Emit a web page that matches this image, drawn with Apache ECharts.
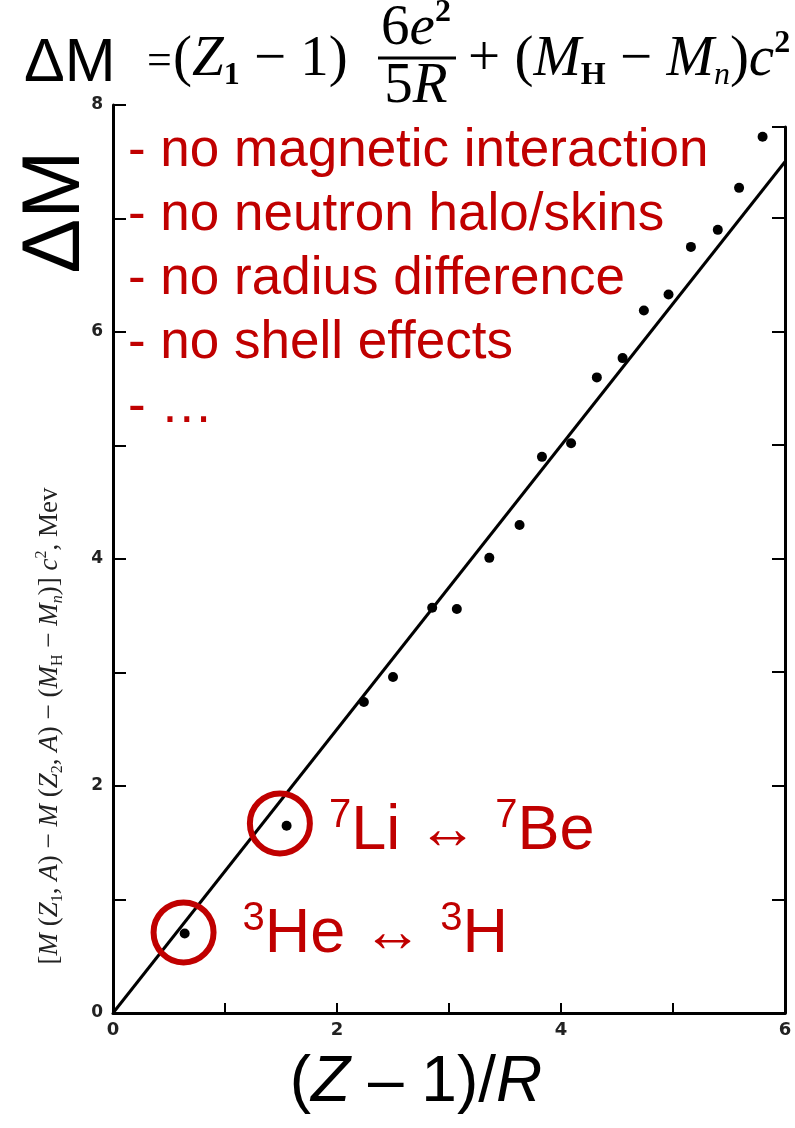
<!DOCTYPE html>
<html>
<head>
<meta charset="utf-8">
<script src="https://cdn.jsdelivr.net/npm/echarts@6/dist/echarts.min.js"></script>
<style>
  html, body { margin: 0; padding: 0; background: #ffffff; }
  #chart { width: 795px; height: 1128px; }
</style>
</head>
<body>
<div id="chart"></div>
<script>
// Mirror-nuclei mass differences versus (Z - 1)/R
const xValues = [0.64, 1.55, 2.24, 2.50, 2.85, 3.07, 3.36, 3.63, 3.83, 4.09, 4.32, 4.55, 4.74, 4.96, 5.16, 5.40, 5.59, 5.80];
const yValues = [0.70, 1.65, 2.74, 2.96, 3.57, 3.56, 4.01, 4.30, 4.90, 5.02, 5.60, 5.77, 6.19, 6.33, 6.75, 6.90, 7.27, 7.72];

// straight-line Coulomb estimate through the origin
const fitX = [0, 6];
const fitY = [0, 7.5];

// highlighted pairs (ring centres) and their names
const ringX = [0.63, 1.49];
const ringY = [0.71, 1.67];
const ringNames = [['3', 'He', '3', 'H'], ['7', 'Li', '7', 'Be']];

const xTicks = [0, 2, 4, 6];
const yTicks = [0, 2, 4, 6, 8];

const bullets = [
  '- no magnetic interaction',
  '- no neutron halo/skins',
  '- no radius difference',
  '- no shell effects',
  '- \u2026'
];

const RED = '#c00000';
const SERIF = '"Liberation Serif", "DejaVu Serif", serif';
const SANS = '"Liberation Sans", Arial, sans-serif';

const chart = echarts.init(document.getElementById('chart'), null, { renderer: 'canvas' });

const ringLabelRich = {
  sup: { fontFamily: SANS, fontSize: 40, color: RED, lineHeight: 44, verticalAlign: 'top' },
  t: { fontFamily: SANS, fontSize: 63, color: RED, lineHeight: 70 },
  arr: { fontFamily: SANS, fontSize: 60, color: RED, lineHeight: 70 }
};

const ringData = ringX.map((x, i) => ({
  value: [x, ringY[i]],
  label: {
    distance: i === 0 ? 26 : 16,
    offset: i === 0 ? [0, 2] : [0, 8]
  }
}));

const FS = 57;
const formulaRich = {
  n: { fontFamily: SERIF, fontSize: FS, fill: '#000', lineHeight: 64 },
  i: { fontFamily: SERIF, fontSize: FS, fontStyle: 'italic', fill: '#000', lineHeight: 64 },
  s: { fontFamily: SERIF, fontSize: 32, fontWeight: 'bold', fill: '#000', lineHeight: 32, verticalAlign: 'bottom' },
  si: { fontFamily: SERIF, fontSize: 32, fontStyle: 'italic', fill: '#000', lineHeight: 32, verticalAlign: 'bottom' },
  p: { fontFamily: SERIF, fontSize: 32, fontWeight: 'bold', fill: '#000', lineHeight: 32, verticalAlign: 'top' }
};

const axisTitleRich = {
  n: { fontFamily: SERIF, fontSize: 27, fill: '#222', lineHeight: 32 },
  i: { fontFamily: SERIF, fontSize: 27, fontStyle: 'italic', fill: '#222', lineHeight: 32 },
  s: { fontFamily: SERIF, fontSize: 16, fill: '#222', lineHeight: 16, verticalAlign: 'bottom' },
  si: { fontFamily: SERIF, fontSize: 16, fontStyle: 'italic', fill: '#222', lineHeight: 16, verticalAlign: 'bottom' },
  p: { fontFamily: SERIF, fontSize: 16, fill: '#222', lineHeight: 16, verticalAlign: 'top' }
};

const option = {
  backgroundColor: '#ffffff',
  animation: false,
  grid: [
    { left: 113, right: 10, top: 105, bottom: 115 },
    { left: 113, right: 10, top: 127, bottom: 115 }
  ],
  xAxis: [
    {
      type: 'value', gridIndex: 0, min: 0, max: 6, interval: 1,
      axisLine: { show: true, lineStyle: { color: '#000', width: 3 } },
      axisTick: { show: true, inside: true, length: 10, lineStyle: { color: '#000', width: 2 } },
      axisLabel: {
        margin: 8, fontFamily: '"DejaVu Sans", sans-serif', fontSize: 18, fontWeight: 'bold', color: '#222',
        formatter: v => (xTicks.indexOf(v) >= 0 ? String(v) : '')
      },
      splitLine: { show: false }
    },
    { type: 'value', gridIndex: 1, min: 0, max: 6, show: false }
  ],
  yAxis: [
    {
      type: 'value', gridIndex: 0, min: 0, max: 8, interval: 1,
      axisLine: { show: true, lineStyle: { color: '#000', width: 3 } },
      axisTick: { show: true, inside: true, length: 13, lineStyle: { color: '#000', width: 2 } },
      axisLabel: {
        margin: 10, fontFamily: '"DejaVu Sans", sans-serif', fontSize: 17, fontWeight: 'bold', color: '#222',
        formatter: v => (yTicks.indexOf(v) >= 0 ? String(v) : '')
      },
      splitLine: { show: false }
    },
    {
      type: 'value', gridIndex: 1, position: 'right', min: 0, max: 7.8, interval: 1,
      axisLine: { show: true, onZero: false, lineStyle: { color: '#000', width: 3 } },
      axisTick: { show: true, inside: true, length: 13, lineStyle: { color: '#000', width: 2 } },
      axisLabel: { show: false },
      splitLine: { show: false }
    }
  ],
  series: [
    {
      type: 'line', xAxisIndex: 0, yAxisIndex: 0,
      data: fitX.map((x, i) => [x, fitY[i]]),
      showSymbol: false, symbol: 'none',
      lineStyle: { color: '#000', width: 3 },
      silent: true, z: 2
    },
    {
      type: 'scatter', xAxisIndex: 0, yAxisIndex: 0,
      data: xValues.map((x, i) => [x, yValues[i]]),
      symbol: 'circle', symbolSize: 10,
      itemStyle: { color: '#000', opacity: 1 },
      z: 3
    },
    {
      type: 'scatter', xAxisIndex: 0, yAxisIndex: 0,
      data: ringData,
      symbol: 'circle', symbolSize: 60,
      itemStyle: { color: 'rgba(0,0,0,0)', borderColor: RED, borderWidth: 6, opacity: 1 },
      label: {
        show: true, position: 'right',
        formatter: p => {
          const n = ringNames[p.dataIndex];
          return '{sup|' + n[0] + '}{t|' + n[1] + ' }{arr|\u2194}{t| }{sup|' + n[2] + '}{t|' + n[3] + '}';
        },
        rich: ringLabelRich
      },
      z: 4
    }
  ],
  graphic: [
    // ΔM at the top left
    {
      type: 'text', x: 24, y: 64,
      style: { text: '\u0394M', font: '61px ' + SANS, fill: '#000', textAlign: 'left', textVerticalAlign: 'middle' }
    },
    // formula: = (Z1 − 1) 6e²/5R + (MH − Mn)c²
    {
      type: 'text', x: 147, y: 62,
      style: { text: '=', font: '44px ' + SERIF, fill: '#000', textAlign: 'left', textVerticalAlign: 'middle' }
    },
    {
      type: 'text', x: 173, y: 60,
      style: { text: '{n|(}{i|Z}{s|1}{n| \u2212 1)}', rich: formulaRich, textAlign: 'left', textVerticalAlign: 'middle' }
    },
    {
      type: 'text', x: 416, y: 29,
      style: { text: '{n|6}{i|e}{p|2}', rich: formulaRich, textAlign: 'center', textVerticalAlign: 'middle' }
    },
    {
      type: 'line', shape: { x1: 378, y1: 58, x2: 456, y2: 58 },
      style: { stroke: '#000', lineWidth: 3 }
    },
    {
      type: 'text', x: 416, y: 87,
      style: { text: '{n|5}{i|R}', rich: formulaRich, textAlign: 'center', textVerticalAlign: 'middle' }
    },
    {
      type: 'text', x: 468, y: 60,
      style: { text: '{n|+ (}{i|M}{s|H}{n| \u2212 }{i|M}{si|n}{n|)}{i|c}{p|2}', rich: formulaRich, textAlign: 'left', textVerticalAlign: 'middle' }
    },
    // vertical ΔM
    {
      type: 'text', x: 56, y: 212, rotation: Math.PI / 2,
      style: { text: '\u0394M', font: '82px ' + SANS, fill: '#000', textAlign: 'center', textVerticalAlign: 'middle' }
    },
    // original axis title, vertical
    {
      type: 'text', x: 50, y: 726, rotation: Math.PI / 2,
      style: {
        text: '{n|[}{i|M}{n| (}{i|Z}{s|1}{n|, }{i|A}{n|) \u2212 }{i|M}{n| (}{i|Z}{s|2}{n|, }{i|A}{n|) \u2212 (}{i|M}{s|H}{n| \u2212 }{i|M}{si|n}{n|)] }{i|c}{p|2}{n|, Mev}',
        rich: axisTitleRich, textAlign: 'center', textVerticalAlign: 'middle'
      }
    },
    // bullet list
    {
      type: 'text', x: 128, y: 119,
      style: {
        text: bullets.join('\n'),
        font: '53px ' + SANS, fill: RED, lineHeight: 64,
        textAlign: 'left', textVerticalAlign: 'top'
      }
    },
    // x axis title
    {
      type: 'text', x: 416, y: 1083,
      style: {
        text: '{n|(}{i|Z}{n| \u2013 1)/}{i|R}',
        rich: {
          n: { fontFamily: SANS, fontSize: 64, fill: '#000', lineHeight: 70 },
          i: { fontFamily: SANS, fontSize: 64, fontStyle: 'italic', fill: '#000', lineHeight: 70 }
        },
        textAlign: 'center', textVerticalAlign: 'middle'
      }
    }
  ]
};

chart.setOption(option);
</script>
</body>
</html>
